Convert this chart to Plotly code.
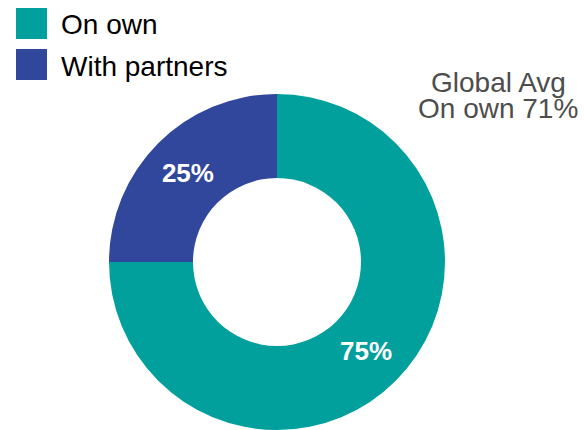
import plotly.graph_objects as go

labels = ["On own", "With partners"]
values = [75, 25]
colors = ["#02A09C", "#30479C"]
avg_lines = ["Global Avg", "On own 71%"]

W, H = 584, 430
FONT = "Arial, Liberation Sans, sans-serif"

fig = go.Figure()
fig.add_trace(go.Pie(
    labels=labels,
    values=values,
    hole=0.5,
    sort=False,
    direction="clockwise",
    rotation=0,
    marker=dict(colors=colors, line=dict(width=0)),
    texttemplate="%{percent:.0%}",
    textinfo="percent",
    textposition="inside",
    insidetextorientation="horizontal",
    textfont=dict(family=FONT, size=26, color="white", weight="bold"),
    domain=dict(x=[108 / W, 446 / W], y=[0, 336 / H]),
    showlegend=False,
    hoverinfo="label+percent",
))

# manual legend with large square swatches
shapes = []
annotations = []
sq_tops = [8, 49]
for i, (lab, col) in enumerate(zip(labels, colors)):
    t = sq_tops[i]
    shapes.append(dict(type="rect", xref="paper", yref="paper",
                       x0=16 / W, x1=47 / W, y0=1 - (t + 31) / H, y1=1 - t / H,
                       fillcolor=col, line=dict(width=0)))
    annotations.append(dict(text=lab, xref="paper", yref="paper",
                            x=59 / W, y=1 - (t + 17) / H, xanchor="left", yanchor="middle",
                            showarrow=False, font=dict(family=FONT, size=28, color="black")))

avg_y = [82, 109]
for txt, yy in zip(avg_lines, avg_y):
    annotations.append(dict(text=txt, xref="paper", yref="paper",
                            x=498 / W, y=1 - yy / H, xanchor="center", yanchor="middle",
                            showarrow=False, font=dict(family=FONT, size=28, color="#4D4D4D")))

fig.update_layout(
    width=W, height=H,
    margin=dict(l=0, r=0, t=0, b=0),
    paper_bgcolor="white",
    plot_bgcolor="white",
    shapes=shapes,
    annotations=annotations,
)

fig.write_html("out.html")
